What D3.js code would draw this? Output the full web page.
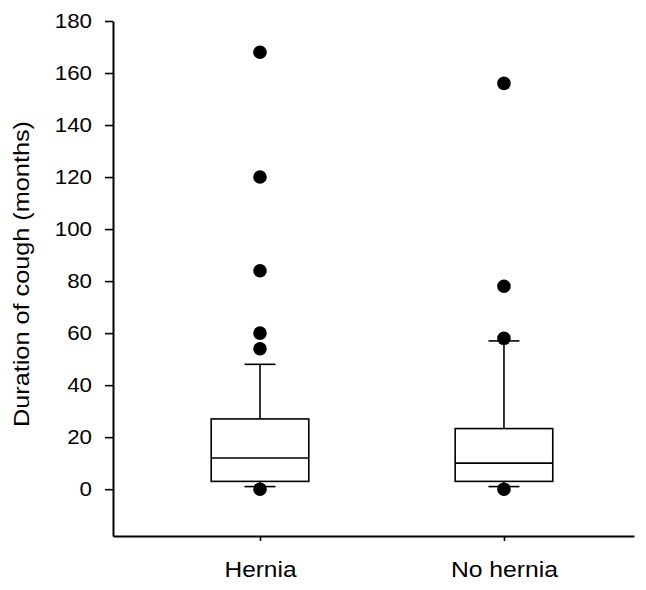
<!DOCTYPE html>
<html>
<head>
<meta charset="utf-8">
<script src="https://cdn.jsdelivr.net/npm/d3@7"></script>
<style>
  body { margin: 0; background: #fff; }
  text { font-family: "Liberation Sans", Arial, sans-serif; fill: #000; }
</style>
</head>
<body>
<div id="chart"></div>
<script>
var width = 646,
    height = 590;

// data
var groups = ["Hernia", "No hernia"];
var q1 = [3, 3];
var median = [12, 10];
var q3 = [27, 23.3];
var whiskerLow = [1, 1];
var whiskerHigh = [48, 57];
var outliers = [
  [0, 54, 60, 84, 120, 168],
  [0, 58, 78, 156]
];
var yTicks = [0, 20, 40, 60, 80, 100, 120, 140, 160, 180];

var x = d3.scaleLinear().domain([0.3975, 2.533]).range([113, 634]);
var y = d3.scaleLinear().domain([-18, 180]).range([536, 21]);

var boxW = 0.4, capW = 0.127;

var svg = d3.select("#chart").append("svg")
    .attr("width", width)
    .attr("height", height);

// y axis
var yAxis = svg.append("g")
    .attr("transform", "translate(113,0)")
    .call(d3.axisLeft(y).tickValues(yTicks).tickSizeOuter(0).tickSizeInner(8).tickPadding(13));
yAxis.select(".domain").attr("stroke-width", 2);
yAxis.selectAll(".tick line").attr("stroke-width", 1.6);
yAxis.selectAll("text").style("font-size", "21px").attr("font-family", null)
    .attr("textLength", function(d) { return String(d).length * 12.4; })
    .attr("lengthAdjust", "spacingAndGlyphs");

// x axis
var catWidth = [72, 107];
var xAxis = svg.append("g")
    .attr("transform", "translate(0,536)")
    .call(d3.axisBottom(x).tickValues([1, 2]).tickFormat(function(d) { return groups[d - 1]; })
      .tickSizeOuter(0).tickSizeInner(5).tickPadding(20));
xAxis.select(".domain").attr("stroke-width", 2);
xAxis.selectAll(".tick line").attr("stroke-width", 1.6);
xAxis.selectAll("text").style("font-size", "22px").attr("font-family", null)
    .attr("textLength", function(d) { return catWidth[d - 1]; })
    .attr("lengthAdjust", "spacingAndGlyphs");

// title
svg.append("text")
    .attr("transform", "translate(29,274) rotate(-90)")
    .attr("text-anchor", "middle")
    .style("font-size", "22px")
    .attr("textLength", 306)
    .attr("lengthAdjust", "spacingAndGlyphs")
    .text("Duration of cough (months)");

var g = svg.append("g").attr("stroke", "#000").attr("stroke-width", 1.6).attr("fill", "none");

groups.forEach(function(name, i) {
  var c = i + 1;
  // whiskers
  g.append("line").attr("x1", x(c)).attr("x2", x(c)).attr("y1", y(q3[i])).attr("y2", y(whiskerHigh[i]));
  g.append("line").attr("x1", x(c)).attr("x2", x(c)).attr("y1", y(q1[i])).attr("y2", y(whiskerLow[i]));
  g.append("line").attr("x1", x(c - capW / 2)).attr("x2", x(c + capW / 2))
    .attr("y1", y(whiskerHigh[i])).attr("y2", y(whiskerHigh[i]));
  g.append("line").attr("x1", x(c - capW / 2)).attr("x2", x(c + capW / 2))
    .attr("y1", y(whiskerLow[i])).attr("y2", y(whiskerLow[i]));
  // box
  g.append("rect")
    .attr("x", x(c - boxW / 2))
    .attr("y", y(q3[i]))
    .attr("width", x(c + boxW / 2) - x(c - boxW / 2))
    .attr("height", y(q1[i]) - y(q3[i]))
    .attr("fill", "#fff");
  g.append("line").attr("x1", x(c - boxW / 2)).attr("x2", x(c + boxW / 2))
    .attr("y1", y(median[i])).attr("y2", y(median[i]));
  // outliers
  svg.selectAll(".pt" + i).data(outliers[i]).enter().append("circle")
    .attr("cx", x(c))
    .attr("cy", function(d) { return y(d); })
    .attr("r", 6.8)
    .attr("fill", "#000");
});
</script>
</body>
</html>
